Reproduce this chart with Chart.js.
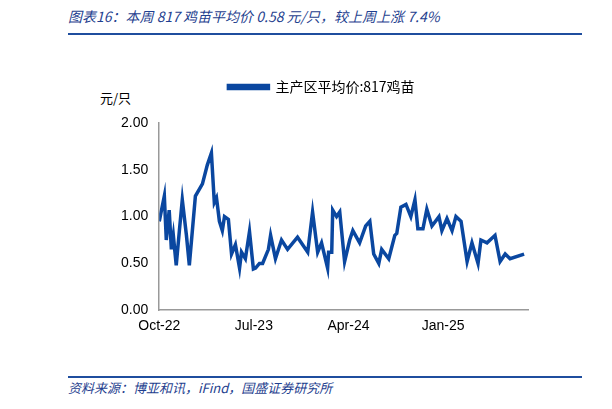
<!DOCTYPE html>
<html>
<head>
<meta charset="utf-8">
<script src="https://cdn.jsdelivr.net/npm/chart.js@4"></script>
<style>
body{margin:0;width:612px;height:409px;background:#fff;position:relative;overflow:hidden;font-family:"Noto Sans CJK SC",sans-serif}
#title{position:absolute;left:68px;top:6px;font-size:14px;font-style:italic;color:#1f3f8f}
#tline{position:absolute;left:68px;top:33px;width:514px;height:2px;background:#1f4e9e}
#src{position:absolute;left:68px;top:378px;font-size:13px;font-style:italic;color:#1f3f8f}
#bline{position:absolute;left:68px;top:376px;width:514px;height:2px;background:#1f4e9e}
#unit{position:absolute;left:100px;top:88px;font-size:13px;color:#000}
#wrap{position:absolute;left:0;top:70px;width:612px;height:268px}
</style>
</head>
<body>
<div id="title">图表16：本周 817 鸡苗平均价 0.58 元/只，较上周上涨 7.4%</div>
<div id="tline"></div>
<div id="unit">元/只</div>
<div id="wrap"><canvas id="c"></canvas></div>
<div id="bline"></div>
<div id="src">资料来源：博亚和讯，iFind，国盛证券研究所</div>
<script>
// 周序号（自2022年10月起）与价格（元/只）
var weeks = [0,2.1,2.9,4.1,5,5.8,7,8.3,9.5,11.2,12.4,14.9,17.8,19.8,21.5,22.7,23.6,24.8,26,26.9,28.5,29.8,31.4,33.1,33.9,35.5,37.2,38.8,39.7,41.3,42.6,45,45.9,47.9,50.4,52.9,57,61.2,63.2,65.3,66.9,69.4,69.8,71.1,71.5,73.1,74.4,76.4,78.5,79.8,82.6,85.1,86.8,88.4,90.5,91.7,94.6,97.1,97.9,99.6,101.7,103.7,105.4,106.6,108.7,110.3,112.4,115.3,116.5,118.6,120.7,122.3,124.4,126.9,128.9,131.4,132.6,135.1,138.4,140.5,142.6,144.6,150.4]
var prices = [0.95,1.22,0.75,1.07,0.65,0.8,0.48,0.85,1.18,0.8,0.48,1.22,1.35,1.55,1.68,1.15,1.2,0.95,0.85,1.0,0.97,0.6,0.7,0.45,0.62,0.55,0.84,0.44,0.45,0.5,0.5,0.65,0.8,0.55,0.75,0.65,0.78,0.62,1.05,0.62,0.72,0.45,0.62,0.62,1.07,1.0,1.05,0.52,0.75,0.85,0.72,0.9,0.95,0.6,0.5,0.65,0.55,0.8,0.82,1.1,1.13,1.0,1.18,0.87,0.87,1.08,0.9,1.0,0.85,0.98,0.85,1.0,0.95,0.52,0.72,0.5,0.75,0.72,0.8,0.52,0.6,0.55,0.6]
var tickWeeks = [0,39,78,117]
var tickLabels = ['Oct-22','Jul-23','Apr-24','Jan-25']
var yTicks = ['0.00','0.50','1.00','1.50','2.00']

var pts = weeks.map(function (w, i) { return {x: w, y: prices[i]} })

//图例下方留白
var legendGap = {
    id: 'legendGap',
    beforeInit: function (chart) {
        var fit = chart.legend.fit
        chart.legend.fit = function () { fit.bind(chart.legend)(); this.height += 19 }
    }
}

new Chart(document.getElementById('c'), {
    type: 'line',
    data: {datasets: [{
        label: '主产区平均价:817鸡苗',
        data: pts,
        borderColor: '#0a47a0',
        backgroundColor: '#0a47a0',
        borderWidth: 3.5,
        pointRadius: 0,
        tension: 0
    }]},
    options: {
        responsive: true, maintainAspectRatio: false, animation: false,
        layout: {padding: {left: 115, right: 84, top: 0, bottom: 0}},
        plugins: {
            legend: {labels: {boxWidth: 40, boxHeight: 3, color: '#000',
                font: {size: 14, family: '"Noto Sans CJK SC"'}}},
            tooltip: {enabled: false}
        },
        scales: {
            x: {
                type: 'linear', min: 0, max: 152,
                afterBuildTicks: function (ax) { ax.ticks = tickWeeks.map(function (v) { return {value: v} }) },
                ticks: {autoSkip: false, maxRotation: 0, color: '#000', font: {size: 14, family: 'Arial'},
                    callback: function (v) { return tickLabels[tickWeeks.indexOf(v)] }},
                grid: {display: false, drawTicks: true, tickLength: 5},
                border: {color: '#999', width: 1.5}
            },
            y: {
                min: 0, max: 2,
                ticks: {stepSize: 0.5, color: '#000', font: {size: 14, family: 'Arial'}, padding: 6,
                    callback: function (v) { return yTicks[Math.round(v * 2)] }},
                grid: {display: false, tickLength: 5},
                border: {color: '#999', width: 1.5}
            }
        }
    },
    plugins: [legendGap]
})
</script>
</body>
</html>
